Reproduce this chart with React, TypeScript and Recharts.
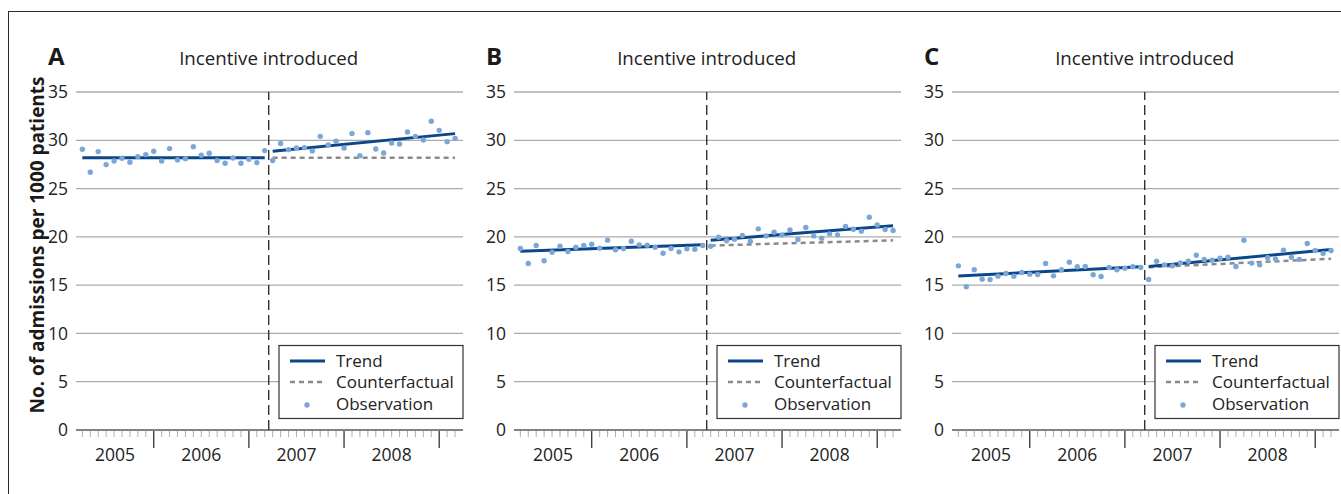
import React from 'react';
import { ComposedChart, Line, Scatter, XAxis, YAxis, CartesianGrid, ReferenceLine } from 'recharts';

// Months Apr 2005 .. Mar 2009 (index = position on x axis)
const MONTHS = [
  'Apr 2005', 'May 2005', 'Jun 2005', 'Jul 2005', 'Aug 2005', 'Sep 2005', 'Oct 2005', 'Nov 2005', 'Dec 2005',
  'Jan 2006', 'Feb 2006', 'Mar 2006', 'Apr 2006', 'May 2006', 'Jun 2006', 'Jul 2006', 'Aug 2006', 'Sep 2006', 'Oct 2006', 'Nov 2006', 'Dec 2006',
  'Jan 2007', 'Feb 2007', 'Mar 2007', 'Apr 2007', 'May 2007', 'Jun 2007', 'Jul 2007', 'Aug 2007', 'Sep 2007', 'Oct 2007', 'Nov 2007', 'Dec 2007',
  'Jan 2008', 'Feb 2008', 'Mar 2008', 'Apr 2008', 'May 2008', 'Jun 2008', 'Jul 2008', 'Aug 2008', 'Sep 2008', 'Oct 2008', 'Nov 2008', 'Dec 2008',
  'Jan 2009', 'Feb 2009', 'Mar 2009',
];
const YEAR_LABELS = ['2005', '2006', '2007', '2008'];
const YEAR_LABEL_POS = [4.125, 15, 27, 39];
const YEAR_START_IDX = [9, 21, 33, 45];
const Y_TICKS = [0, 5, 10, 15, 20, 25, 30, 35];
const X_DOMAIN = [-0.8, 48];
const INCENTIVE_AT = 23.5;

const PANEL_LETTERS = ['A', 'B', 'C'];
const TITLE = 'Incentive introduced';
const Y_LABEL = 'No. of admissions per 1000 patients';
const LEGEND_ITEMS = ['Trend', 'Counterfactual', 'Observation'];

const OBS_A = [
  29.07, 26.69, 28.83, 27.48, 27.86, 28.14, 27.72, 28.31, 28.52, 28.86, 27.86, 29.14,
  27.97, 28.1, 29.34, 28.45, 28.66, 27.9, 27.62, 28.17, 27.62, 28.03, 27.69, 28.93,
  27.9, 29.66, 29.03, 29.2, 29.24, 28.9, 30.41, 29.52, 29.9, 29.2, 30.69, 28.41,
  30.79, 29.1, 28.69, 29.72, 29.62, 30.86, 30.41, 30.03, 31.97, 31.03, 29.86, 30.2,
];
const OBS_B = [
  18.79, 17.24, 19.1, 17.52, 18.41, 19.03, 18.48, 18.93, 19.1, 19.24, 18.83, 19.66,
  18.66, 18.79, 19.55, 19.17, 19.14, 18.93, 18.31, 18.79, 18.45, 18.76, 18.72, 19.1,
  19.03, 19.97, 19.59, 19.76, 20.14, 19.52, 20.83, 20.1, 20.48, 20.21, 20.72, 19.72,
  20.97, 20.1, 19.86, 20.31, 20.21, 21.07, 20.79, 20.59, 22.03, 21.24, 20.76, 20.66,
];
const OBS_C = [
  17.0, 14.83, 16.59, 15.62, 15.59, 15.93, 16.21, 15.93, 16.31, 16.14, 16.1, 17.24,
  15.96, 16.59, 17.38, 16.9, 16.93, 16.07, 15.9, 16.83, 16.59, 16.76, 16.9, 16.83,
  15.59, 17.48, 17.1, 17.0, 17.31, 17.48, 18.1, 17.65, 17.59, 17.79, 17.9, 16.93,
  19.66, 17.28, 17.1, 17.83, 17.72, 18.62, 17.9, 17.65, 19.31, 18.59, 18.28, 18.59,
];

// segment endpoints (month index) and read values at those endpoints
const PRE_X = [0, 23];
const POST_X = [24, 47];
const CF_X = [24, 47];

const PRE_A = [28.2, 28.2];
const POST_A = [28.86, 30.69];
const CF_A = [28.2, 28.2];

const PRE_B = [18.52, 19.17];
const POST_B = [19.66, 21.14];
const CF_B = [19.1, 19.64];

const PRE_C = [15.95, 16.9];
const POST_C = [16.92, 18.69];
const CF_C = [16.85, 17.73];

const NAVY = '#0b4688';
const DOT = '#7ba6d8';
const GREY_DASH = '#8a8a8a';
const GRID = '#ababab';
const TEXT = '#222';
const FONT = '"Open Sans", "Noto Sans", sans-serif';

const PLOT_W = 387;
const PANEL_LEFTS = [76, 514, 952];

const pts = (xs: number[], ys: number[]) => xs.map((x, i) => ({ x, y: ys[i] }));

const XTick = (props: any) => {
  const { x, y, payload } = props;
  const v = payload.value;
  const yi = YEAR_LABEL_POS.indexOf(v);
  const isMonth = Number.isInteger(v);
  const isYearStart = YEAR_START_IDX.includes(v);
  return (
    <g>
      {isMonth && (
        <line
          x1={x}
          x2={x}
          y1={y + 1}
          y2={y + (isYearStart ? 18 : 7)}
          stroke={isYearStart ? '#333' : '#b0b0b0'}
          strokeWidth={isYearStart ? 1.3 : 1}
        />
      )}
      {yi >= 0 && (
        <text x={x} y={y + 31} textAnchor="middle" fontSize={17.5} fill={TEXT} fontFamily={FONT}>
          {YEAR_LABELS[yi]}
        </text>
      )}
    </g>
  );
};

const Dot = (props: any) => <circle cx={props.cx} cy={props.cy} r={2.7} fill={DOT} />;

const X_TICKS = [...MONTHS.map((_, i) => i), YEAR_LABEL_POS[0]];

type PanelProps = {
  left: number;
  obs: number[];
  pre: number[];
  post: number[];
  cf: number[];
};

const Panel = ({ left, obs, pre, post, cf }: PanelProps) => {
  const obsData = obs.map((y, i) => ({ x: i, y, month: MONTHS[i] }));
  return (
    <div style={{ position: 'absolute', left: left - 70, top: 0 }}>
      <ComposedChart
        width={70 + PLOT_W + 10}
        height={494}
        margin={{ top: 92, right: 10, bottom: 34, left: 10 }}
      >
        <CartesianGrid vertical={false} stroke={GRID} strokeWidth={1.3} />
        <XAxis
          type="number"
          dataKey="x"
          domain={X_DOMAIN}
          ticks={X_TICKS}
          interval={0}
          allowDataOverflow
          height={30}
          tickSize={0}
          tickMargin={0}
          tickLine={false}
          axisLine={{ stroke: '#444', strokeWidth: 1.2 }}
          tick={<XTick />}
        />
        <YAxis
          type="number"
          domain={[0, 35]}
          ticks={Y_TICKS}
          interval={0}
          width={60}
          tickLine={false}
          axisLine={false}
          tick={{ fontSize: 17.5, fill: TEXT, fontFamily: FONT }}
        />
        <ReferenceLine
          x={INCENTIVE_AT}
          stroke="#333"
          strokeWidth={1.4}
          strokeDasharray="10 5"
          label={{ value: TITLE, position: 'top', offset: 27, fill: TEXT, fontSize: 18.7, fontFamily: FONT }}
        />
        <Scatter data={obsData} dataKey="y" shape={<Dot />} isAnimationActive={false} />
        <Line data={pts(CF_X, cf)} dataKey="y" type="linear" stroke={GREY_DASH} strokeWidth={2.5} strokeDasharray="5 4" dot={false} isAnimationActive={false} />
        <Line data={pts(PRE_X, pre)} dataKey="y" type="linear" stroke={NAVY} strokeWidth={3} dot={false} isAnimationActive={false} />
        <Line data={pts(POST_X, post)} dataKey="y" type="linear" stroke={NAVY} strokeWidth={3} dot={false} isAnimationActive={false} />
      </ComposedChart>
    </div>
  );
};

const LegendBox = ({ right }: { right: number }) => {
  const x0 = right - 184;
  return (
    <g>
      <rect x={x0} y={345.5} width={184} height={73} fill="#fff" stroke="#333" strokeWidth={1.2} />
      <line x1={x0 + 11} x2={x0 + 46} y1={361} y2={361} stroke={NAVY} strokeWidth={3} />
      <line x1={x0 + 11} x2={x0 + 46} y1={382} y2={382} stroke={GREY_DASH} strokeWidth={2.5} strokeDasharray="5 4" />
      <circle cx={x0 + 28} cy={405} r={2.7} fill={DOT} />
      {LEGEND_ITEMS.map((t, i) => (
        <text key={t} x={x0 + 57} y={[361, 382, 404][i] + 6} fontSize={17} fill={TEXT} fontFamily={FONT}>
          {t}
        </text>
      ))}
    </g>
  );
};

export default function App() {
  const panels = [
    { obs: OBS_A, pre: PRE_A, post: POST_A, cf: CF_A },
    { obs: OBS_B, pre: PRE_B, post: POST_B, cf: CF_B },
    { obs: OBS_C, pre: PRE_C, post: POST_C, cf: CF_C },
  ];
  return (
    <>
      <style>{`html,body{margin:0;padding:0;overflow:hidden;background:#fff}`}</style>
      <div
        style={{
          position: 'absolute',
          left: 0,
          top: 0,
          width: 1341,
          height: 494,
          overflow: 'hidden',
          fontFamily: FONT,
          background: '#fff',
        }}
      >
        <div
          style={{
            position: 'absolute',
            left: 8,
            top: 11,
            width: 1400,
            height: 600,
            border: '1.5px solid #2a2a2a',
            boxSizing: 'border-box',
          }}
        />
        {panels.map((p, i) => (
          <Panel key={i} left={PANEL_LEFTS[i]} {...p} />
        ))}
        <svg
          width={1341}
          height={494}
          style={{ position: 'absolute', left: 0, top: 0, pointerEvents: 'none' }}
        >
          <text
            transform="translate(44,245) rotate(-90)"
            textAnchor="middle"
            fontSize={19}
            fontWeight="bold"
            fill="#1a1a1a"
            fontFamily={FONT}
          >
            {Y_LABEL}
          </text>
          {PANEL_LETTERS.map((l, i) => (
            <text key={l} x={PANEL_LEFTS[i] - 28} y={65} fontSize={24} fontWeight="bold" fill="#1a1a1a" fontFamily={FONT}>
              {l}
            </text>
          ))}
          {PANEL_LEFTS.map((l) => (
            <LegendBox key={l} right={l + PLOT_W} />
          ))}
        </svg>
      </div>
    </>
  );
}
